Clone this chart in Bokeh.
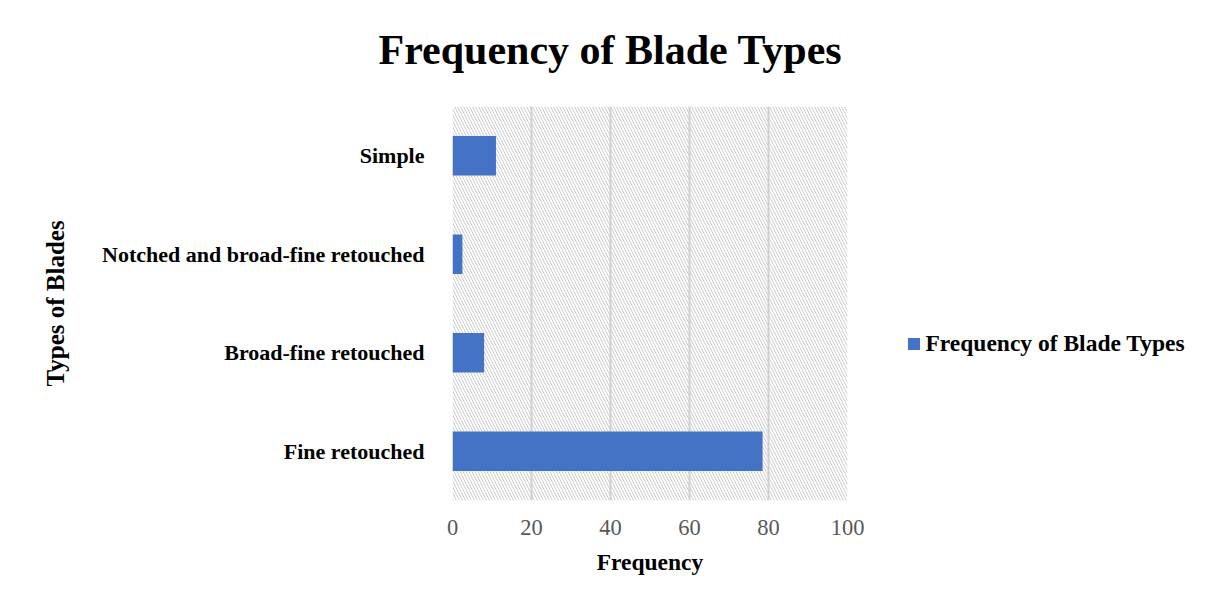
from bokeh.plotting import figure
from bokeh.models import BoxAnnotation, Legend, LegendItem, FactorRange, FixedTicker, Title
from bokeh.embed import file_html
from bokeh.resources import INLINE

categories = ["Fine retouched", "Broad-fine retouched", "Notched and broad-fine retouched", "Simple"]
frequency = [78.5, 8, 2.5, 11]
x_ticks = [0, 20, 40, 60, 80, 100]

SERIF = "Liberation Serif"

p = figure(
    y_range=FactorRange(factors=categories, range_padding=0),
    x_range=(0, 100),
    frame_width=395, frame_height=394,
    min_border_left=452, min_border_right=343, min_border_top=106, min_border_bottom=84,
    output_backend="svg", toolbar_location=None,
    background_fill_color="white", border_fill_color="white",
)
p.outline_line_color = None

# hatched plot area
hatch = BoxAnnotation(fill_alpha=0, line_alpha=0, hatch_pattern="left_diagonal_line",
                      hatch_color="#cccccc", hatch_weight=1, hatch_scale=6, level="image")
p.add_layout(hatch)

r = p.hbar(y=categories, right=frequency, left=0, height=0.4, color="#4472C4", line_color=None)

# spacer between title and plot area
p.add_layout(Title(text=" ", text_font_size="20px", standoff=10), "above")

# title
p.title.text = "Frequency of Blade Types"
p.title.text_font = SERIF
p.title.text_font_size = "42px"
p.title.text_font_style = "bold"
p.title.align = "left"
p.title.offset = -74
p.title.standoff = 0
p.title.text_color = "black"

# x axis
p.xaxis.ticker = FixedTicker(ticks=x_ticks)
p.xaxis.axis_line_color = None
p.xaxis.major_tick_line_color = None
p.xaxis.minor_tick_line_color = None
p.xaxis.major_label_text_font = SERIF
p.xaxis.major_label_text_font_size = "22.5px"
p.xaxis.major_label_text_color = "#595959"
p.xaxis.major_label_standoff = 13
p.xaxis.axis_label = "Frequency"
p.xaxis.axis_label_text_font = SERIF
p.xaxis.axis_label_text_font_size = "23.5px"
p.xaxis.axis_label_text_font_style = "bold"
p.xaxis.axis_label_text_color = "black"
p.xaxis.axis_label_standoff = 11

# y axis
p.yaxis.axis_line_color = None
p.yaxis.major_tick_line_color = None
p.yaxis.minor_tick_line_color = None
p.yaxis.major_label_text_font = SERIF
p.yaxis.major_label_text_font_size = "22px"
p.yaxis.major_label_text_font_style = "bold"
p.yaxis.major_label_text_color = "black"
p.yaxis.major_label_standoff = 22
p.yaxis.axis_label = "Types of Blades"
p.yaxis.axis_label_text_font = SERIF
p.yaxis.axis_label_text_font_size = "25px"
p.yaxis.axis_label_text_font_style = "bold"
p.yaxis.axis_label_text_color = "black"
p.yaxis.axis_label_standoff = 30

# grid
p.xgrid.grid_line_color = "#d0d0d0"
p.xgrid.grid_line_width = 2
p.ygrid.grid_line_color = None

legend = Legend(items=[LegendItem(label="Frequency of Blade Types", renderers=[r])],
                location=(58.5, 143), border_line_color=None, background_fill_alpha=0,
                padding=0, margin=0, glyph_width=15, glyph_height=15, label_standoff=5,
                label_text_font=SERIF, label_text_font_size="23.5px",
                label_text_font_style="bold", label_text_color="black")
p.add_layout(legend, "right")

open("out.html", "w").write(file_html(p, INLINE))
